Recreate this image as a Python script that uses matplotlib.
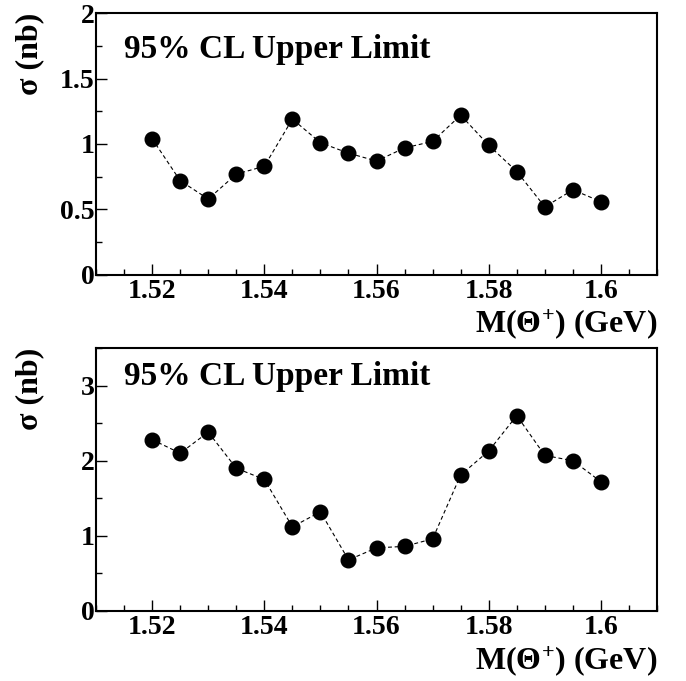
import matplotlib
matplotlib.use("Agg")
import matplotlib.pyplot as plt
from matplotlib.ticker import MultipleLocator, FixedLocator

plt.rcParams['font.family'] = ['Liberation Serif', 'DejaVu Serif']
plt.rcParams['font.weight'] = 'bold'
plt.rcParams['mathtext.fontset'] = 'custom'
plt.rcParams['mathtext.rm'] = 'Liberation Serif:bold'
plt.rcParams['mathtext.it'] = 'Liberation Serif:bold'
plt.rcParams['mathtext.bf'] = 'Liberation Serif:bold'

# Theta+ mass points (GeV)
mass = [1.520, 1.525, 1.530, 1.535, 1.540, 1.545, 1.550, 1.555, 1.560,
        1.565, 1.570, 1.575, 1.580, 1.585, 1.590, 1.595, 1.600]

# 95% CL upper limits on the cross section (nb)
limit_top = [1.04, 0.72, 0.58, 0.77, 0.83, 1.19, 1.01, 0.93, 0.87,
             0.97, 1.02, 1.22, 0.99, 0.79, 0.52, 0.65, 0.56]
limit_bottom = [2.28, 2.10, 2.38, 1.90, 1.75, 1.12, 1.32, 0.68, 0.84,
                0.86, 0.96, 1.81, 2.13, 2.60, 2.07, 2.00, 1.72]

x_ticks = [1.52, 1.54, 1.56, 1.58, 1.60]
x_ticklabels = ['1.52', '1.54', '1.56', '1.58', '1.6']

fig = plt.figure(figsize=(6.86, 6.81), dpi=100)

panels = [
    # (axes rect, data, ymax, major y step, y tick labels)
    ([0.14, 0.5962, 0.8178, 0.3847], limit_top, 2.0, 0.5, ['0', '0.5', '1', '1.5', '2']),
    ([0.14, 0.1028, 0.8178, 0.3862], limit_bottom, 3.5, 1.0, ['0', '1', '2', '3']),
]

for rect, values, ymax, ystep, ylabels in panels:
    ax = fig.add_axes(rect)
    ax.plot(mass, values, color='black', linestyle=(0, (3.5, 2.5)), linewidth=0.8,
            marker='o', markersize=10.5, markerfacecolor='black',
            markeredgecolor='black')
    ax.set_xlim(1.51, 1.61)
    ax.set_ylim(0, ymax)

    ax.xaxis.set_major_locator(FixedLocator(x_ticks))
    ax.set_xticklabels(x_ticklabels)
    ax.xaxis.set_minor_locator(MultipleLocator(0.005))
    yt = [i * ystep for i in range(len(ylabels))]
    ax.yaxis.set_major_locator(FixedLocator(yt))
    ax.set_yticklabels(ylabels)
    ax.yaxis.set_minor_locator(MultipleLocator(ystep / 2))

    ax.tick_params(which='both', direction='in', top=False, right=False,
                   width=1.0, labelsize=20)
    ax.tick_params(which='major', length=8)
    ax.tick_params(which='minor', length=4.5)
    ax.tick_params(axis='y', pad=1)
    ax.tick_params(axis='x', pad=3)
    for s in ax.spines.values():
        s.set_linewidth(1.5)

    ax.text(0.05, 0.86 if ymax > 2 else 0.83, '95% CL Upper Limit',
            transform=ax.transAxes, fontsize=24, fontweight='bold',
            ha='left', va='baseline')

    ax.set_xlabel(r'M($\Theta^{+}$) (GeV)', fontsize=23, fontweight='bold')
    ax.xaxis.set_label_coords(1.0, -0.125)
    ax.xaxis.label.set_horizontalalignment('right')
    ax.xaxis.label.set_verticalalignment('top')

    ax.set_ylabel('σ (nb)', fontsize=23, fontweight='bold')
    ax.yaxis.set_label_coords(-0.118, 1.0)
    ax.yaxis.label.set_horizontalalignment('right')
    ax.yaxis.label.set_verticalalignment('center')

fig.savefig('out.png', dpi=100)
